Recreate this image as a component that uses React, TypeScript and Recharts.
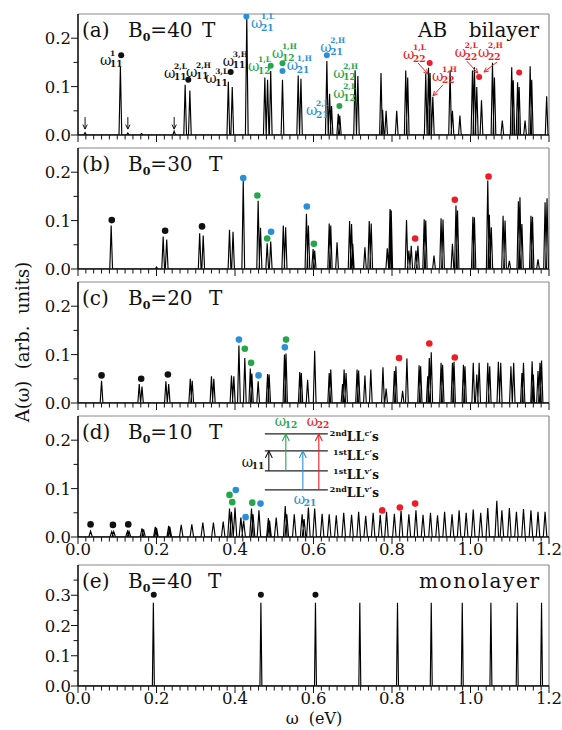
import React from "react";
import {
  ComposedChart,
  Line,
  Scatter,
  XAxis,
  YAxis,
  ReferenceLine,
  ReferenceDot,
} from "recharts";

const FONT = '"DejaVu Serif", serif';
const COLORS: Record<string, string> = {
  k: "#111111",
  b: "#2b8fd8",
  g: "#25a64a",
  r: "#ee1d25",
};

// axis ticks
const X_LABELS = ["0.0", "0.2", "0.4", "0.6", "0.8", "1.0", "1.2"];
const X_TICKS = Array.from({ length: 61 }, (_, i) => +(i * 0.02).toFixed(2));
const Y_LABELS = ["0.0", "0.1", "0.2", "0.3"];
const Y_TICKS_SMALL = [0, 0.05, 0.1, 0.15, 0.2];
const Y_TICKS_BIG = [0, 0.05, 0.1, 0.15, 0.2, 0.25, 0.3, 0.35];

// (a) B0 = 40 T, AB bilayer
const PEAK_A_W = [0.018, 0.108, 0.127, 0.162, 0.245, 0.273, 0.285, 0.383, 0.393, 0.43, 0.476, 0.483, 0.491, 0.521, 0.561, 0.568, 0.634, 0.641, 0.646, 0.663, 0.667, 0.706, 0.713, 0.772, 0.776, 0.785, 0.812, 0.835, 0.84, 0.886, 0.893, 0.897, 0.904, 0.948, 0.954, 0.973, 1.005, 1.01, 1.016, 1.028, 1.056, 1.061, 1.081, 1.105, 1.109, 1.12, 1.124, 1.139, 1.152, 1.156, 1.194];
const PEAK_A_H = [0.005, 0.141, 0.004, 0.003, 0.008, 0.104, 0.092, 0.11, 0.099, 0.244, 0.119, 0.114, 0.132, 0.114, 0.123, 0.116, 0.153, 0.085, 0.06, 0.044, 0.04, 0.134, 0.122, 0.128, 0.052, 0.05, 0.05, 0.133, 0.119, 0.127, 0.139, 0.128, 0.079, 0.134, 0.05, 0.04, 0.133, 0.14, 0.099, 0.072, 0.149, 0.119, 0.03, 0.14, 0.113, 0.109, 0.099, 0.03, 0.142, 0.114, 0.08];
const DOT_A_W = [0.11, 0.281, 0.389, 0.429, 0.521, 0.634, 0.491, 0.521, 0.666, 0.896, 1.022, 1.124];
const DOT_A_H = [0.165, 0.114, 0.13, 0.245, 0.132, 0.165, 0.143, 0.148, 0.06, 0.149, 0.12, 0.129];
const DOT_A_C = ["k", "k", "k", "b", "b", "b", "g", "g", "g", "r", "r", "r"];

// labels of (a)
const NOTE_A_W = [0.056, 0.219, 0.275, 0.324, 0.369, 0.441, 0.433, 0.494, 0.532, 0.617, 0.581, 0.65, 0.65, 0.828, 0.902, 0.96, 1.019];
const NOTE_A_H = [0.145, 0.118, 0.12, 0.107, 0.143, 0.221, 0.132, 0.159, 0.134, 0.171, 0.041, 0.118, 0.076, 0.157, 0.112, 0.161, 0.161];
const NOTE_A_SUP = ["1", "2,L", "2,H", "3,L", "3,H", "1,L", "1,L", "1,H", "1,H", "2,H", "2,L", "2,H", "2,L", "1,L", "1,H", "2,L", "2,H"];
const NOTE_A_SUB = ["11", "11", "11", "11", "11", "21", "12", "12", "21", "21", "21", "12", "12", "22", "22", "22", "22"];
const NOTE_A_C = ["k", "k", "k", "k", "k", "b", "g", "g", "b", "b", "b", "g", "g", "r", "r", "r", "r"];
const DOWN_ARROW_W = [0.018, 0.127, 0.245];

// (b) B0 = 30 T
const PEAK_B_W = [0.0845, 0.2, 0.217, 0.226, 0.31, 0.319, 0.386, 0.395, 0.421, 0.459, 0.465, 0.482, 0.491, 0.523, 0.529, 0.582, 0.587, 0.599, 0.603, 0.64, 0.644, 0.66, 0.692, 0.697, 0.7, 0.731, 0.742, 0.747, 0.788, 0.795, 0.798, 0.837, 0.843, 0.849, 0.861, 0.866, 0.882, 0.886, 0.907, 0.925, 0.93, 0.954, 0.963, 0.967, 1.006, 1.01, 1.044, 1.048, 1.053, 1.083, 1.088, 1.099, 1.122, 1.126, 1.131, 1.154, 1.158, 1.172, 1.19, 1.195];
const PEAK_B_H = [0.09, 0.004, 0.067, 0.061, 0.074, 0.069, 0.081, 0.077, 0.183, 0.141, 0.085, 0.053, 0.057, 0.09, 0.086, 0.114, 0.09, 0.041, 0.038, 0.094, 0.09, 0.055, 0.099, 0.093, 0.052, 0.045, 0.099, 0.094, 0.043, 0.124, 0.121, 0.101, 0.038, 0.048, 0.038, 0.048, 0.103, 0.1, 0.028, 0.105, 0.102, 0.052, 0.131, 0.121, 0.108, 0.107, 0.183, 0.112, 0.086, 0.11, 0.1, 0.017, 0.14, 0.148, 0.093, 0.11, 0.108, 0.02, 0.138, 0.146];
const DOT_B_W = [0.086, 0.222, 0.316, 0.421, 0.492, 0.583, 0.457, 0.482, 0.601, 0.859, 0.96, 1.046];
const DOT_B_H = [0.101, 0.079, 0.088, 0.188, 0.077, 0.129, 0.152, 0.063, 0.052, 0.063, 0.143, 0.191];
const DOT_B_C = ["k", "k", "k", "b", "b", "b", "g", "g", "g", "r", "r", "r"];

// (c) B0 = 20 T
const PEAK_C_W = [0.06, 0.156, 0.163, 0.224, 0.231, 0.286, 0.291, 0.34, 0.346, 0.391, 0.397, 0.41, 0.425, 0.439, 0.443, 0.459, 0.483, 0.487, 0.526, 0.53, 0.565, 0.569, 0.585, 0.603, 0.64, 0.644, 0.674, 0.678, 0.683, 0.711, 0.715, 0.731, 0.746, 0.777, 0.785, 0.806, 0.81, 0.827, 0.838, 0.869, 0.873, 0.891, 0.895, 0.9, 0.925, 0.929, 0.954, 0.958, 0.982, 0.986, 1.007, 1.016, 1.022, 1.044, 1.049, 1.071, 1.077, 1.103, 1.11, 1.131, 1.135, 1.157, 1.16, 1.172, 1.177, 1.181];
const PEAK_C_H = [0.046, 0.039, 0.034, 0.045, 0.039, 0.05, 0.046, 0.055, 0.05, 0.057, 0.055, 0.119, 0.093, 0.071, 0.061, 0.045, 0.06, 0.059, 0.1, 0.102, 0.064, 0.062, 0.048, 0.108, 0.062, 0.069, 0.039, 0.069, 0.062, 0.069, 0.067, 0.057, 0.069, 0.074, 0.03, 0.066, 0.076, 0.025, 0.092, 0.078, 0.076, 0.055, 0.093, 0.105, 0.083, 0.079, 0.083, 0.085, 0.079, 0.076, 0.083, 0.059, 0.083, 0.083, 0.076, 0.085, 0.083, 0.076, 0.083, 0.062, 0.083, 0.086, 0.059, 0.066, 0.083, 0.088];
const DOT_C_W = [0.06, 0.161, 0.229, 0.41, 0.46, 0.527, 0.425, 0.441, 0.53, 0.818, 0.895, 0.96];
const DOT_C_H = [0.057, 0.05, 0.059, 0.131, 0.057, 0.115, 0.112, 0.083, 0.131, 0.093, 0.123, 0.094];
const DOT_C_C = ["k", "k", "k", "b", "b", "b", "g", "g", "g", "r", "r", "r"];

// (d) B0 = 10 T
const PEAK_D_W = [0.032, 0.086, 0.091, 0.126, 0.13, 0.163, 0.167, 0.197, 0.2, 0.231, 0.234, 0.263, 0.29, 0.318, 0.345, 0.37, 0.386, 0.391, 0.4, 0.415, 0.422, 0.442, 0.446, 0.461, 0.485, 0.488, 0.505, 0.528, 0.532, 0.551, 0.571, 0.576, 0.587, 0.603, 0.622, 0.64, 0.658, 0.677, 0.697, 0.715, 0.733, 0.752, 0.77, 0.786, 0.806, 0.823, 0.843, 0.861, 0.879, 0.898, 0.916, 0.934, 0.953, 0.971, 0.989, 1.007, 1.026, 1.044, 1.067, 1.08, 1.099, 1.117, 1.135, 1.154, 1.172, 1.19];
const PEAK_D_H = [0.012, 0.011, 0.011, 0.012, 0.012, 0.018, 0.016, 0.021, 0.019, 0.023, 0.021, 0.025, 0.026, 0.03, 0.03, 0.032, 0.059, 0.052, 0.061, 0.04, 0.034, 0.059, 0.047, 0.055, 0.039, 0.034, 0.04, 0.064, 0.047, 0.047, 0.047, 0.037, 0.061, 0.059, 0.048, 0.047, 0.045, 0.05, 0.046, 0.052, 0.044, 0.05, 0.046, 0.052, 0.048, 0.054, 0.047, 0.055, 0.046, 0.05, 0.045, 0.052, 0.047, 0.055, 0.05, 0.057, 0.05, 0.06, 0.075, 0.055, 0.06, 0.052, 0.058, 0.055, 0.052, 0.052];
const DOT_D_W = [0.032, 0.089, 0.128, 0.402, 0.427, 0.465, 0.386, 0.393, 0.444, 0.775, 0.82, 0.859];
const DOT_D_H = [0.026, 0.025, 0.026, 0.097, 0.041, 0.069, 0.087, 0.072, 0.071, 0.055, 0.061, 0.069];
const DOT_D_C = ["k", "k", "k", "b", "b", "b", "g", "g", "g", "r", "r", "r"];

// (e) B0 = 40 T, monolayer
const PEAK_E_W = [0.192, 0.466, 0.605, 0.718, 0.814, 0.9, 0.979, 1.052, 1.119, 1.181];
const PEAK_E_H = [0.275, 0.275, 0.275, 0.275, 0.275, 0.275, 0.275, 0.275, 0.275, 0.275];
const DOT_E_W = [0.193, 0.466, 0.605];
const DOT_E_H = [0.302, 0.302, 0.302];
const DOT_E_C = ["k", "k", "k"];

// each peak drawn as a narrow spike
const spikes = (ws: number[], hs: number[], half: number) => {
  const pts: { x: number; y: number }[] = [{ x: 0, y: 0 }];
  ws.forEach((w, i) => {
    pts.push({ x: w - half, y: 0 }, { x: w, y: hs[i] }, { x: w + half, y: 0 });
  });
  pts.push({ x: 1.2, y: 0 });
  return pts;
};
const dotRows = (ws: number[], hs: number[], cs: string[]) =>
  ws.map((w, i) => ({ x: w, y: hs[i], c: cs[i] }));

const PLOT_H = 121;

const XTick = (p: any) => {
  const { x, y, payload, showLabel } = p;
  const v = payload.value;
  const k = Math.round(v / 0.2);
  const major = Math.abs(v - k * 0.2) < 1e-6;
  return (
    <g>
      <line x1={x} x2={x} y1={y} y2={y + (major ? 7 : 4.5)} stroke="#111" strokeWidth={1} />
      {showLabel && major && (
        <text x={x} y={y + 18} textAnchor="middle" fontSize={16.5} fontFamily={FONT} fill="#111">
          {X_LABELS[k]}
        </text>
      )}
    </g>
  );
};

const YTick = (p: any) => {
  const { x, y, payload } = p;
  const v = payload.value;
  const k = Math.round(v / 0.1);
  const major = Math.abs(v - k * 0.1) < 1e-6;
  return (
    <g>
      <line x1={x} x2={x - (major ? 7 : 4.5)} y1={y} y2={y} stroke="#111" strokeWidth={1} />
      {major && (
        <text x={x - 7} y={y + 6} textAnchor="end" fontSize={16.5} fontFamily={FONT} fill="#111">
          {Y_LABELS[k]}
        </text>
      )}
    </g>
  );
};

const arrowPath = (x1: number, y1: number, x2: number, y2: number, len = 5) => {
  const a = Math.atan2(y2 - y1, x2 - x1);
  const s = 0.45;
  return `M${x1},${y1} L${x2},${y2} M${x2 - len * Math.cos(a - s)},${y2 - len * Math.sin(a - s)} L${x2},${y2} L${x2 - len * Math.cos(a + s)},${y2 - len * Math.sin(a + s)}`;
};

// pixel offsets of the red pointer arrows, keyed by label index
const RED_ARROWS: Record<number, number[]> = {
  13: [15, 4, 25, 15],
  14: [11, 4, 1, 15],
  15: [12, 4, 23, 16],
  16: [19, 5, 6, 15],
};

const Omega = ({ cx, cy, color, sup, sub, arrow }: any) => (
  <g fill={color} fontFamily={FONT}>
    <text x={cx} y={cy} fontSize={14}>ω</text>
    {sup && (
      <text x={cx + 10} y={cy - 9} fontSize={7.5} fontWeight="bold">
        {sup}
      </text>
    )}
    <text x={cx + 10} y={cy + 2.5} fontSize={9} fontWeight="bold">
      {sub}
    </text>
    {arrow && (
      <path
        d={arrowPath(cx + arrow[0], cy + arrow[1], cx + arrow[2], cy + arrow[3])}
        stroke={color}
        strokeWidth={1}
        fill="none"
      />
    )}
  </g>
);

const LevelDiagram = ({ cx, cy }: any) => {
  const lv = [0, 17, 37, 56];
  const up = (x: number, y1: number, y2: number, color: string) => (
    <g stroke={color} strokeWidth={1.1} fill="none">
      <line x1={x} y1={y1} x2={x} y2={y2} />
      <polyline points={`${x - 3.5},${y2 + 7} ${x},${y2} ${x + 3.5},${y2 + 7}`} />
    </g>
  );
  const rows = [
    { pre: "2nd", sup: "c’", by: 7 },
    { pre: "1st", sup: "c’", by: 26 },
    { pre: "1st", sup: "v’", by: 45 },
    { pre: "2nd", sup: "v’", by: 63 },
  ];
  return (
    <g fontFamily={FONT}>
      {lv.map((d) => (
        <line key={d} x1={cx} x2={cx + 63} y1={cy + d} y2={cy + d} stroke="#222" strokeWidth={1.2} />
      ))}
      {up(cx + 4, cy + lv[2], cy + lv[1], "#111")}
      {up(cx + 21, cy + lv[2], cy + lv[0], COLORS.g)}
      {up(cx + 38, cy + lv[3], cy + lv[1], COLORS.b)}
      {up(cx + 54, cy + lv[3], cy + lv[0], COLORS.r)}
      <Omega cx={cx + 10} cy={cy - 8} color={COLORS.g} sub="12" />
      <Omega cx={cx + 42} cy={cy - 8} color={COLORS.r} sub="22" />
      <Omega cx={cx - 23} cy={cy + 33} color="#111" sub="11" />
      <Omega cx={cx + 29} cy={cy + 70} color={COLORS.b} sub="21" />
      {rows.map((r) => (
        <g key={r.by} fill="#111">
          <text x={cx + 82} y={cy + r.by - 5} textAnchor="end" fontSize={8} fontWeight="bold">
            {r.pre}
          </text>
          <text x={cx + 82} y={cy + r.by} fontSize={12.5} fontWeight="bold">
            LL
            <tspan fontSize={8} dy={-5}>
              {r.sup}
            </tspan>
            <tspan fontSize={12} dy={5}>
              s
            </tspan>
          </text>
        </g>
      ))}
    </g>
  );
};

const Panel = ({ top, line, dots, yMax, yTicks, showX, r, children }: any) => (
  <div style={{ position: "absolute", left: 0, top: top - 10 }}>
    <ComposedChart width={562} height={10 + PLOT_H + 30} margin={{ top: 10, right: 13, bottom: 0, left: 0 }}>
      <XAxis
        type="number"
        dataKey="x"
        domain={[0, 1.2]}
        ticks={X_TICKS}
        interval={0}
        tickSize={0}
        tickMargin={0}
        height={30}
        allowDataOverflow
        axisLine={{ stroke: "#111", strokeWidth: 1.6 }}
        tickLine={false}
        tick={(p: any) => <XTick {...p} showLabel={showX} />}
      />
      <YAxis
        type="number"
        domain={[0, yMax]}
        ticks={yTicks}
        interval={0}
        width={78}
        tickSize={0}
        tickMargin={0}
        allowDataOverflow
        axisLine={{ stroke: "#111", strokeWidth: 1.6 }}
        tickLine={false}
        tick={(p: any) => <YTick {...p} />}
      />
      <ReferenceLine y={yMax} stroke="#8a8a8a" strokeWidth={1.2} />
      <ReferenceLine x={1.2} stroke="#8a8a8a" strokeWidth={1.2} />
      <Line
        data={line}
        dataKey="y"
        type="linear"
        stroke="#000"
        strokeWidth={1.15}
        dot={false}
        activeDot={false}
        isAnimationActive={false}
      />
      <Scatter
        data={dots}
        dataKey="y"
        isAnimationActive={false}
        shape={(p: any) => <circle cx={p.cx} cy={p.cy} r={r} fill={COLORS[p.payload.c]} />}
      />
      {children}
    </ComposedChart>
  </div>
);

const Title = ({ y, tag, field, tx }: any) => (
  <text y={y} fontFamily={FONT} fontSize={20} fill="#111">
    <tspan x={82}>{tag}</tspan>
    <tspan x={128}>B</tspan>
    <tspan fontSize={11} fontWeight="bold" dy={4}>
      0
    </tspan>
    <tspan dy={-4}>={field}</tspan>
    <tspan x={tx}>T</tspan>
  </text>
);

export default function App() {
  return (
    <div style={{ position: "absolute", left: 0, top: 0, width: 562, height: 730, background: "#fff" }}>
      <Panel top={14} line={spikes(PEAK_A_W, PEAK_A_H, 0.0035)} dots={dotRows(DOT_A_W, DOT_A_H, DOT_A_C)} yMax={0.25} yTicks={Y_TICKS_SMALL} r={3}>
        {NOTE_A_W.map((w, i) => (
          <ReferenceDot
            key={`n${i}`}
            x={w}
            y={NOTE_A_H[i]}
            r={0}
            shape={(p: any) => (
              <Omega cx={p.cx} cy={p.cy} color={COLORS[NOTE_A_C[i]]} sup={NOTE_A_SUP[i]} sub={NOTE_A_SUB[i]} arrow={RED_ARROWS[i]} />
            )}
          />
        ))}
        {DOWN_ARROW_W.map((w) => (
          <ReferenceDot
            key={`d${w}`}
            x={w}
            y={0.037}
            r={0}
            shape={(p: any) => (
              <path d={arrowPath(p.cx, p.cy, p.cx, p.cy + 12, 5)} stroke="#111" strokeWidth={1} fill="none" />
            )}
          />
        ))}
      </Panel>
      <Panel top={148} line={spikes(PEAK_B_W, PEAK_B_H, 0.0035)} dots={dotRows(DOT_B_W, DOT_B_H, DOT_B_C)} yMax={0.25} yTicks={Y_TICKS_SMALL} r={3.3} />
      <Panel top={282} line={spikes(PEAK_C_W, PEAK_C_H, 0.0035)} dots={dotRows(DOT_C_W, DOT_C_H, DOT_C_C)} yMax={0.25} yTicks={Y_TICKS_SMALL} r={3.3} />
      <Panel top={416} line={spikes(PEAK_D_W, PEAK_D_H, 0.0045)} dots={dotRows(DOT_D_W, DOT_D_H, DOT_D_C)} yMax={0.25} yTicks={Y_TICKS_SMALL} r={3.3} showX>
        <ReferenceDot x={0.476} y={0.213} r={0} shape={(p: any) => <LevelDiagram cx={p.cx} cy={p.cy} />} />
      </Panel>
      <Panel top={565} line={spikes(PEAK_E_W, PEAK_E_H, 0.0025)} dots={dotRows(DOT_E_W, DOT_E_H, DOT_E_C)} yMax={0.4} yTicks={Y_TICKS_BIG} r={3} showX />

      <svg width={562} height={730} style={{ position: "absolute", left: 0, top: 0, pointerEvents: "none" }}>
        <Title y={37} tag="(a)" field="40" tx={202} />
        <Title y={171} tag="(b)" field="30" tx={209} />
        <Title y={305} tag="(c)" field="20" tx={209} />
        <Title y={439} tag="(d)" field="10" tx={209} />
        <Title y={588} tag="(e)" field="40" tx={208} />
        <text x={418} y={37} fontFamily={FONT} fontSize={20} fill="#111">AB</text>
        <text x={539} y={37} textAnchor="end" fontFamily={FONT} fontSize={20} fill="#111">bilayer</text>
        <text x={539} y={588} textAnchor="end" fontFamily={FONT} fontSize={20} fill="#111" textLength={120}>
          monolayer
        </text>
        <text x={29} y={342} transform="rotate(-90 29 342)" textAnchor="middle" fontFamily={FONT} fontSize={18} fill="#111" xmlSpace="preserve">
          A(ω)  (arb.  units)
        </text>
        <text x={314} y={724} textAnchor="middle" fontFamily={FONT} fontSize={16} fill="#111" xmlSpace="preserve">
          ω  (eV)
        </text>
      </svg>
    </div>
  );
}
